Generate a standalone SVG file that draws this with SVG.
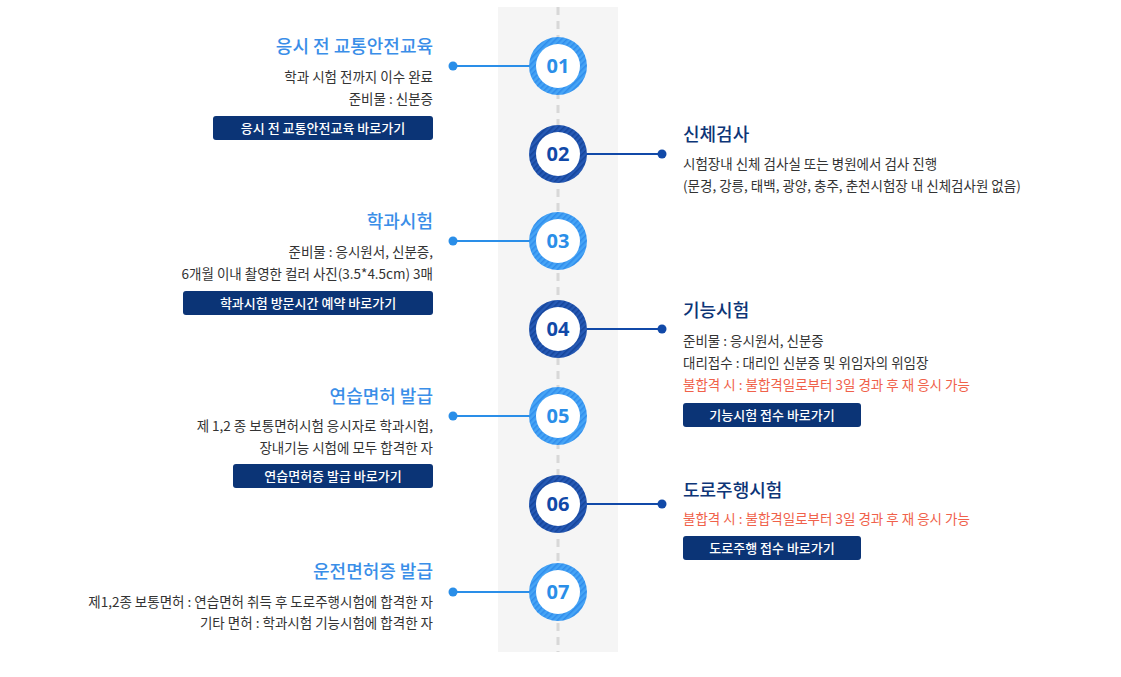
<svg xmlns="http://www.w3.org/2000/svg" width="1121" height="677" viewBox="0 0 1121 677">
<style>
text{font-family:"Noto Sans CJK KR","Noto Sans",sans-serif}
.t1{font-size:18px;font-weight:500;fill:#3a8ee8}
.t2{font-size:18px;font-weight:500;fill:#0d3577}
.d{font-size:13.5px;fill:#333}
.r{font-size:13.5px;fill:#f0614a}
.b{font-size:13px;fill:#fff;font-weight:500}
.btn{fill:#0b3476}
.num{font-size:20px;font-weight:700;font-family:"Noto Sans","Open Sans",sans-serif}
.l1{stroke:#2a8ee8;stroke-width:2}
.l2{stroke:#1149a8;stroke-width:2}
</style>
<defs>
<pattern id="pl" width="4" height="4" patternUnits="userSpaceOnUse" patternTransform="rotate(45)"><rect width="4" height="4" fill="#46a4f5"/><rect width="1.5" height="4" fill="#2f8cec"/></pattern>
<pattern id="pd" width="4" height="4" patternUnits="userSpaceOnUse" patternTransform="rotate(45)"><rect width="4" height="4" fill="#2559b5"/><rect width="1.5" height="4" fill="#15449a"/></pattern>
</defs>
<rect x="498" y="7" width="120" height="645" fill="#f5f5f5"/>
<line x1="558" y1="7" x2="558" y2="652" stroke="#d8d8d8" stroke-width="3" stroke-dasharray="8,6"/>
<g id="connectors">
<line class="l1" x1="453" y1="66" x2="530" y2="66"/><circle cx="453" cy="66" r="4.5" fill="#2a8ee8"/>
<line class="l2" x1="586" y1="154" x2="662" y2="154"/><circle cx="662" cy="154" r="4.5" fill="#1149a8"/>
<line class="l1" x1="453" y1="241" x2="530" y2="241"/><circle cx="453" cy="241" r="4.5" fill="#2a8ee8"/>
<line class="l2" x1="586" y1="329" x2="662" y2="329"/><circle cx="662" cy="329" r="4.5" fill="#1149a8"/>
<line class="l1" x1="453" y1="416" x2="530" y2="416"/><circle cx="453" cy="416" r="4.5" fill="#2a8ee8"/>
<line class="l2" x1="586" y1="504" x2="662" y2="504"/><circle cx="662" cy="504" r="4.5" fill="#1149a8"/>
<line class="l1" x1="453" y1="592" x2="530" y2="592"/><circle cx="453" cy="592" r="4.5" fill="#2a8ee8"/>
</g>
<g id="c01"><circle cx="558" cy="66" r="29" fill="url(#pl)"/><circle cx="558" cy="66" r="22" fill="#fff"/><text x="558" y="73" text-anchor="middle" class="num" fill="#2a8ee8">01</text></g>
<g id="c02"><circle cx="558" cy="154" r="29" fill="url(#pd)"/><circle cx="558" cy="154" r="22" fill="#fff"/><text x="558" y="161" text-anchor="middle" class="num" fill="#1149a8">02</text></g>
<g id="c03"><circle cx="558" cy="241" r="29" fill="url(#pl)"/><circle cx="558" cy="241" r="22" fill="#fff"/><text x="558" y="248" text-anchor="middle" class="num" fill="#2a8ee8">03</text></g>
<g id="c04"><circle cx="558" cy="329" r="29" fill="url(#pd)"/><circle cx="558" cy="329" r="22" fill="#fff"/><text x="558" y="336" text-anchor="middle" class="num" fill="#1149a8">04</text></g>
<g id="c05"><circle cx="558" cy="416" r="29" fill="url(#pl)"/><circle cx="558" cy="416" r="22" fill="#fff"/><text x="558" y="423" text-anchor="middle" class="num" fill="#2a8ee8">05</text></g>
<g id="c06"><circle cx="558" cy="504" r="29" fill="url(#pd)"/><circle cx="558" cy="504" r="22" fill="#fff"/><text x="558" y="511" text-anchor="middle" class="num" fill="#1149a8">06</text></g>
<g id="c07"><circle cx="558" cy="592" r="29" fill="url(#pl)"/><circle cx="558" cy="592" r="22" fill="#fff"/><text x="558" y="599" text-anchor="middle" class="num" fill="#2a8ee8">07</text></g>

<g id="s01" text-anchor="end">
<text x="433" y="53" class="t1">응시 전 교통안전교육</text>
<text x="433" y="82" class="d">학과 시험 전까지 이수 완료</text>
<text x="433" y="104" class="d">준비물 : 신분증</text>
<rect x="213" y="116" width="220" height="24" rx="3" class="btn"/>
<text x="323" y="133" text-anchor="middle" class="b">응시 전 교통안전교육 바로가기</text>
</g>
<g id="s02">
<text x="683" y="141" class="t2">신체검사</text>
<text x="683" y="169" class="d">시험장내 신체 검사실 또는 병원에서 검사 진행</text>
<text x="683" y="191" class="d">(문경, 강릉, 태백, 광양, 충주, 춘천시험장 내 신체검사원 없음)</text>
</g>
<g id="s03" text-anchor="end">
<text x="433" y="228" class="t1">학과시험</text>
<text x="433" y="257" class="d">준비물 : 응시원서, 신분증,</text>
<text x="433" y="279" class="d">6개월 이내 촬영한 컬러 사진(3.5*4.5cm) 3매</text>
<rect x="183" y="291" width="250" height="24" rx="3" class="btn"/>
<text x="308" y="308" text-anchor="middle" class="b">학과시험 방문시간 예약 바로가기</text>
</g>
<g id="s04">
<text x="683" y="317" class="t2">기능시험</text>
<text x="683" y="346" class="d">준비물 : 응시원서, 신분증</text>
<text x="683" y="368" class="d">대리접수 : 대리인 신분증 및 위임자의 위임장</text>
<text x="683" y="390" class="r">불합격 시 : 불합격일로부터 3일 경과 후 재 응시 가능</text>
<rect x="683" y="403" width="178" height="24" rx="3" class="btn"/>
<text x="772" y="420" text-anchor="middle" class="b">기능시험 접수 바로가기</text>
</g>
<g id="s05" text-anchor="end">
<text x="433" y="403" class="t1">연습면허 발급</text>
<text x="433" y="431" class="d">제 1,2 종 보통면허시험 응시자로 학과시험,</text>
<text x="433" y="453" class="d">장내기능 시험에 모두 합격한 자</text>
<rect x="233" y="464" width="200" height="24" rx="3" class="btn"/>
<text x="333" y="481" text-anchor="middle" class="b">연습면허증 발급 바로가기</text>
</g>
<g id="s06">
<text x="683" y="497" class="t2">도로주행시험</text>
<text x="683" y="524" class="r">불합격 시 : 불합격일로부터 3일 경과 후 재 응시 가능</text>
<rect x="683" y="536" width="178" height="24" rx="3" class="btn"/>
<text x="772" y="553" text-anchor="middle" class="b">도로주행 접수 바로가기</text>
</g>
<g id="s07" text-anchor="end">
<text x="433" y="578" class="t1">운전면허증 발급</text>
<text x="433" y="607" class="d">제1,2종 보통면허 : 연습면허 취득 후 도로주행시험에 합격한 자</text>
<text x="433" y="628" class="d">기타 면허 : 학과시험 기능시험에 합격한 자</text>
</g>
</svg>
